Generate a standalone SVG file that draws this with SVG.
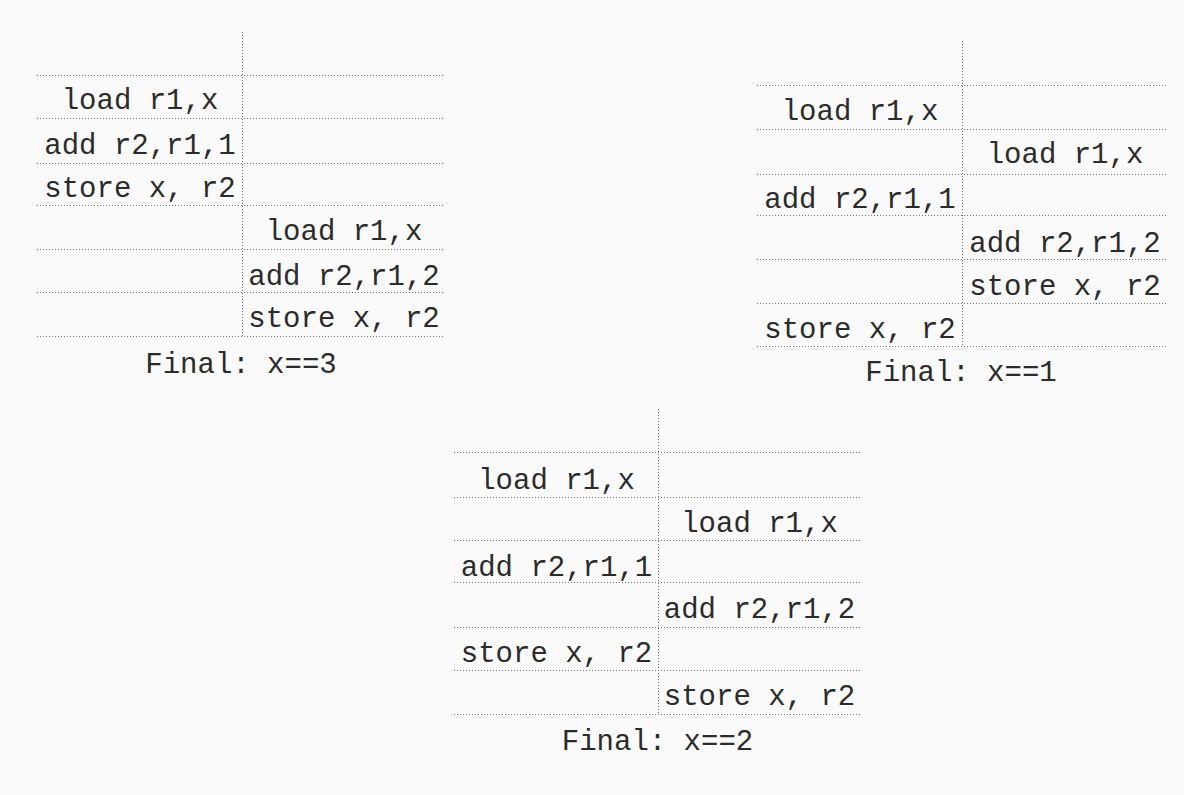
<svg xmlns="http://www.w3.org/2000/svg" width="1184" height="795" viewBox="0 0 1184 795">
<style>
.bg{fill:#fafafa}
.grid line{stroke:#707070;stroke-width:1;stroke-dasharray:1 2}
text{font-family:"Liberation Mono","Courier New",monospace;font-size:29px;fill:#2b2b2b;text-anchor:middle}
</style>
<rect class="bg" x="0" y="0" width="1184" height="795"/>
<g id="connectors" class="grid">
  <!-- top-left table -->
  <line x1="242.5" y1="32" x2="242.5" y2="337"/>
  <line x1="37" y1="75.5" x2="445" y2="75.5"/>
  <line x1="37" y1="118.5" x2="445" y2="118.5"/>
  <line x1="37" y1="163.5" x2="445" y2="163.5"/>
  <line x1="37" y1="205.5" x2="445" y2="205.5"/>
  <line x1="37" y1="249.5" x2="445" y2="249.5"/>
  <line x1="37" y1="292.5" x2="445" y2="292.5"/>
  <line x1="37" y1="336.5" x2="445" y2="336.5"/>
  <!-- top-right table -->
  <line x1="962.5" y1="41" x2="962.5" y2="347"/>
  <line x1="757" y1="85.5" x2="1167" y2="85.5"/>
  <line x1="757" y1="129.5" x2="1167" y2="129.5"/>
  <line x1="757" y1="174.5" x2="1167" y2="174.5"/>
  <line x1="757" y1="215.5" x2="1167" y2="215.5"/>
  <line x1="757" y1="259.5" x2="1167" y2="259.5"/>
  <line x1="757" y1="303.5" x2="1167" y2="303.5"/>
  <line x1="757" y1="346.5" x2="1167" y2="346.5"/>
  <!-- bottom table -->
  <line x1="658.5" y1="409" x2="658.5" y2="715"/>
  <line x1="454" y1="452.5" x2="860" y2="452.5"/>
  <line x1="454" y1="497.5" x2="860" y2="497.5"/>
  <line x1="454" y1="540.5" x2="860" y2="540.5"/>
  <line x1="454" y1="582.5" x2="860" y2="582.5"/>
  <line x1="454" y1="627.5" x2="860" y2="627.5"/>
  <line x1="454" y1="670.5" x2="860" y2="670.5"/>
  <line x1="454" y1="714.5" x2="860" y2="714.5"/>
</g>
<g id="table-x3">
  <g id="tl-1"><text x="140" y="109">load r1,x</text></g>
  <g id="tl-2"><text x="140" y="154">add r2,r1,1</text></g>
  <g id="tl-3"><text x="140" y="197">store x, r2</text></g>
  <g id="tl-4"><text x="344" y="240">load r1,x</text></g>
  <g id="tl-5"><text x="344" y="285">add r2,r1,2</text></g>
  <g id="tl-6"><text x="344" y="327">store x, r2</text></g>
  <g id="tl-final"><text x="241" y="373">Final: x==3</text></g>
</g>
<g id="table-x1">
  <g id="tr-1"><text x="860" y="120">load r1,x</text></g>
  <g id="tr-2"><text x="1065" y="163">load r1,x</text></g>
  <g id="tr-3"><text x="860" y="208">add r2,r1,1</text></g>
  <g id="tr-4"><text x="1065" y="252">add r2,r1,2</text></g>
  <g id="tr-5"><text x="1065" y="295">store x, r2</text></g>
  <g id="tr-6"><text x="860" y="338">store x, r2</text></g>
  <g id="tr-final"><text x="961" y="381">Final: x==1</text></g>
</g>
<g id="table-x2">
  <g id="b-1"><text x="556.5" y="489">load r1,x</text></g>
  <g id="b-2"><text x="759.5" y="532">load r1,x</text></g>
  <g id="b-3"><text x="556.5" y="576">add r2,r1,1</text></g>
  <g id="b-4"><text x="759.5" y="618">add r2,r1,2</text></g>
  <g id="b-5"><text x="556.5" y="662">store x, r2</text></g>
  <g id="b-6"><text x="759.5" y="705">store x, r2</text></g>
  <g id="b-final"><text x="657.5" y="750">Final: x==2</text></g>
</g>
</svg>
